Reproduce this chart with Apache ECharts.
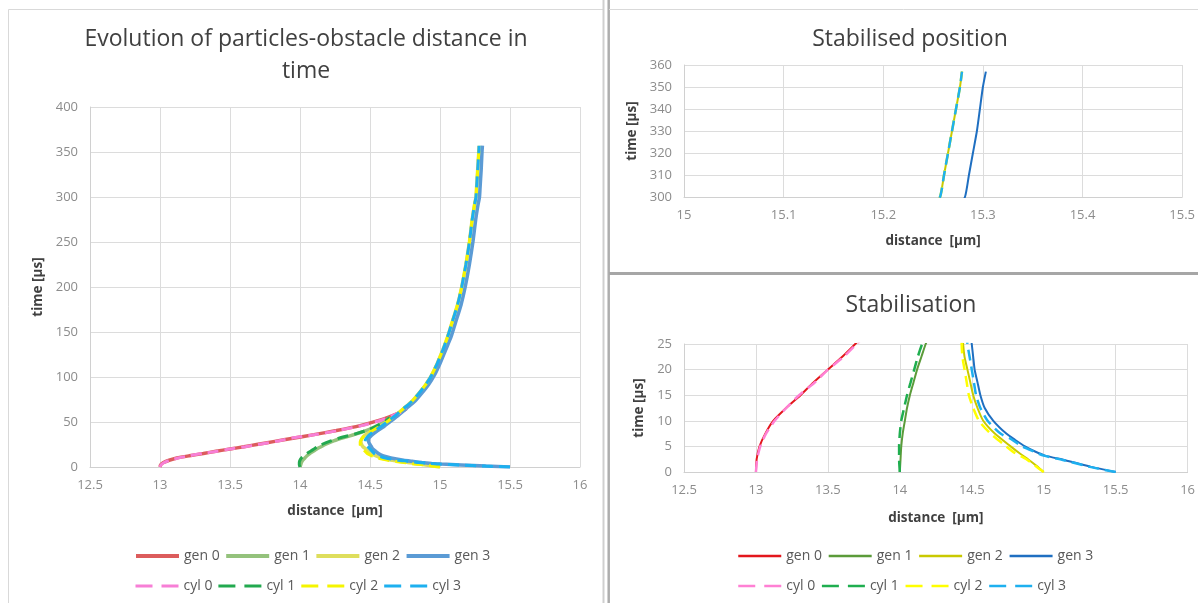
<!DOCTYPE html>
<html>
<head>
<meta charset="utf-8">
<script src="https://cdn.jsdelivr.net/npm/echarts/dist/echarts.min.js"></script>
<style>
html, body { margin: 0; padding: 0; background: #fff; }
#wrap { position: relative; width: 1198px; height: 603px; overflow: hidden; }
#left_chart { position: absolute; left: 0; top: 0; width: 605px; height: 603px; }
#right_chart { position: absolute; left: 605px; top: 0; width: 593px; height: 603px; }
</style>
</head>
<body>
<div id="wrap">
  <div id="left_chart"></div>
  <div id="right_chart"></div>
</div>
<script>
// series values: [distance (µm), time (µs)]
const gen0 = [[13.0,0],[13.005,2.5],[13.025,5],[13.065,7.5],[13.12,10],[13.21,12.5],[13.31,15],[13.4,17.5],[13.5,20],[13.6,22.5],[13.69,25],[13.82,28.5],[13.95,32],[14.1,36],[14.26,40.5],[14.43,46],[14.57,52],[14.66,57],[14.72,61],[14.76,65]];
const cyl0 = [[13.0,0],[13.008,2.5],[13.03,5],[13.07,7.5],[13.13,10],[13.21,12.5],[13.3,15],[13.41,17.5],[13.5,20],[13.61,22.5],[13.7,25],[13.83,28.5],[13.94,32],[14.11,36],[14.27,40.5],[14.44,46],[14.58,52],[14.66,57],[14.72,61],[14.76,65]];
const gen1 = [[14.0,0],[14.005,2.5],[14.01,5],[14.02,7.5],[14.035,10],[14.05,12.5],[14.07,15],[14.095,17.5],[14.12,20],[14.15,22.5],[14.18,25],[14.24,29],[14.32,33],[14.41,37],[14.5,42],[14.56,46.5],[14.61,51],[14.64,55]];
const cyl1 = [[14.0,0],[13.995,2.5],[13.995,5],[14.0,7.5],[14.01,10],[14.03,12.5],[14.05,15],[14.075,17.5],[14.1,20],[14.125,22.5],[14.155,25],[14.22,29],[14.3,33],[14.4,37],[14.49,41.5],[14.56,46.5],[14.61,51],[14.64,55]];
const gen2 = [[15.0,0],[14.95,1.2],[14.9,2.3],[14.83,3.7],[14.77,5],[14.66,7.5],[14.58,10],[14.54,12.5],[14.51,15],[14.49,17.5],[14.47,20],[14.45,22.5],[14.44,25],[14.435,28],[14.44,31],[14.46,35],[14.5,39],[14.56,44],[14.62,50],[14.68,57],[14.74,65],[14.8,73],[14.85,82],[14.9,92],[14.94,102],[14.98,115],[15.02,130],[15.055,145],[15.085,160],[15.125,180],[15.155,200],[15.185,225],[15.21,250],[15.23,275],[15.245,290],[15.257,300],[15.261,310],[15.265,320],[15.269,330],[15.273,340],[15.277,350],[15.279,357]];
const cyl2 = [[15.0,0],[14.94,1.2],[14.88,2.5],[14.8,3.7],[14.74,5],[14.63,7.5],[14.55,10],[14.51,12.5],[14.48,15],[14.465,17.5],[14.45,20],[14.435,22.5],[14.43,25],[14.43,28],[14.44,31],[14.46,35],[14.5,39],[14.56,44],[14.62,50],[14.68,57],[14.74,65],[14.8,73],[14.85,82],[14.9,92],[14.94,102],[14.98,115],[15.02,130],[15.055,145],[15.085,160],[15.125,180],[15.155,200],[15.185,225],[15.21,250],[15.23,275],[15.245,290],[15.257,300],[15.261,310],[15.265,320],[15.269,330],[15.273,340],[15.277,350],[15.279,357]];
const gen3 = [[15.5,0],[15.33,1],[15.15,2.3],[15.01,3.2],[14.94,4],[14.87,5],[14.8,6.3],[14.74,7.5],[14.65,10],[14.59,12.5],[14.56,15],[14.54,17.5],[14.52,20],[14.51,22.5],[14.5,25],[14.49,28],[14.49,31],[14.51,35],[14.55,40],[14.6,45],[14.64,50],[14.7,57],[14.76,65],[14.82,73],[14.87,82],[14.92,92],[14.96,102],[15.0,115],[15.04,130],[15.08,145],[15.11,160],[15.15,180],[15.18,200],[15.21,225],[15.235,250],[15.255,275],[15.27,290],[15.282,300],[15.286,310],[15.29,320],[15.294,330],[15.297,340],[15.3,350],[15.303,357]];
const cyl3 = [[15.5,0],[15.32,1],[15.14,2.3],[15.0,3.2],[14.93,4],[14.85,5],[14.77,6.5],[14.7,7.5],[14.61,10],[14.56,12.5],[14.53,15],[14.515,17.5],[14.5,20],[14.485,22.5],[14.47,25],[14.465,28],[14.47,31],[14.49,35],[14.53,40],[14.58,45],[14.62,50],[14.68,57],[14.74,65],[14.8,73],[14.85,82],[14.9,92],[14.94,102],[14.98,115],[15.02,130],[15.055,145],[15.085,160],[15.125,180],[15.155,200],[15.185,225],[15.21,250],[15.23,275],[15.245,290],[15.257,300],[15.261,310],[15.265,320],[15.269,330],[15.273,340],[15.277,350],[15.279,357]];

const seriesNames = ['gen 0', 'gen 1', 'gen 2', 'gen 3', 'cyl 0', 'cyl 1', 'cyl 2', 'cyl 3'];
const seriesData = [gen0, gen1, gen2, gen3, cyl0, cyl1, cyl2, cyl3];

// axis ranges: [min, max, interval]
const mainX = [12.5, 16, 0.5];
const mainY = [0, 400, 50];
const stableX = [15, 15.5, 0.1];
const stableY = [300, 360, 10];
const startX = [12.5, 16, 0.5];
const startY = [0, 25, 5];

const leftColors = ['#dc5c5c', '#94c27c', '#dede5c', '#5b9bd5', '#f77fd6', '#22a94f', '#f5f500', '#1db0ef'];
const rightColors = ['#e3171c', '#5b9b3a', '#c9c900', '#1f6fc1', '#ff80d4', '#1fae4f', '#ffff00', '#1eb0ef'];

const fontFam = "'Open Sans', sans-serif";

function makeTitle(text, x, y) {
    return {
        text: text,
        left: x,
        top: y,
        padding: 0,
        textAlign: 'center',
        textStyle: { fontFamily: fontFam, fontSize: 23, fontWeight: 'normal', color: '#404040', lineHeight: 32 }
    };
}

function makeAxis(range, gridIndex, name, nameGap, isY) {
    return {
        type: 'value',
        gridIndex: gridIndex,
        min: range[0],
        max: range[1],
        interval: range[2],
        name: name,
        nameLocation: 'middle',
        nameGap: nameGap,
        nameRotate: isY ? 90 : 0,
        nameTextStyle: { fontFamily: fontFam, fontSize: 13.5, fontWeight: 'bold', color: '#404040' },
        axisLine: { show: true, lineStyle: { color: '#d0d0d0', width: 1 } },
        axisTick: { show: false },
        axisLabel: { fontFamily: fontFam, fontSize: 13, color: '#8c8c8c', margin: 12, showMinLabel: true, showMaxLabel: true },
        splitLine: { show: true, lineStyle: { color: '#dcdcdc', width: 1 } }
    };
}

function makeSeries(gridIndex, colors, genWidth, cylWidth) {
    return seriesNames.map(function (name, i) {
        const isCyl = i >= 4;
        return {
            name: name,
            type: 'line',
            xAxisIndex: gridIndex,
            yAxisIndex: gridIndex,
            data: seriesData[i],
            symbol: 'none',
            smooth: 0.2,
            clip: true,
            color: colors[i],
            lineStyle: { color: colors[i], width: isCyl ? cylWidth : genWidth, type: isCyl ? [11, 6] : 'solid' }
        };
    });
}

function makeLegends(left, gap, colors, lineW) {
    const hidden = { color: 'rgba(0,0,0,0)', borderWidth: 0, opacity: 0 };
    const base = {
        left: left,
        orient: 'horizontal',
        padding: 0,
        itemWidth: 43,
        itemHeight: 14,
        itemGap: gap,
        selectedMode: false,
        textStyle: { fontFamily: fontFam, fontSize: 14, color: '#595959', width: 38 }
    };
    const genRow = Object.assign({}, base, {
        top: 549,
        data: seriesNames.slice(0, 4).map(function (n, i) {
            return { name: n, itemStyle: hidden, lineStyle: { color: colors[i], width: lineW[0], type: 'solid' } };
        })
    });
    const cylRow = Object.assign({}, base, {
        top: 579,
        data: seriesNames.slice(4).map(function (n, i) {
            return { name: n, itemStyle: hidden, lineStyle: { color: colors[i + 4], width: lineW[1], type: [17, 9] } };
        })
    });
    return [genRow, cylRow];
}

// left panel: full evolution
const leftChart = echarts.init(document.getElementById('left_chart'), null, { renderer: 'canvas' });
leftChart.setOption({
    animation: false,
    backgroundColor: '#fff',
    title: [makeTitle('Evolution of particles-obstacle distance in\ntime', 306, 23)],
    grid: [{ left: 90, right: 25, top: 107, bottom: 136 }],
    xAxis: [makeAxis(mainX, 0, 'distance  [µm]', 37, false)],
    yAxis: [makeAxis(mainY, 0, 'time [µs]', 44, true)],
    legend: makeLegends(134, 4.5, leftColors, [4, 3]),
    series: makeSeries(0, leftColors, 3.5, 3),
    graphic: [
        { type: 'rect', shape: { x: 8.5, y: 9.5, width: 595, height: 600 }, style: { fill: null, stroke: '#d9d9d9', lineWidth: 1 }, silent: true },
        { type: 'line', shape: { x1: 603.5, y1: 0, x2: 603.5, y2: 603 }, style: { stroke: '#cfcfcf', lineWidth: 2 }, silent: true }
    ]
});

// right panel: stabilised position (top) and stabilisation (bottom)
const rightChart = echarts.init(document.getElementById('right_chart'), null, { renderer: 'canvas' });
rightChart.setOption({
    animation: false,
    backgroundColor: '#fff',
    title: [makeTitle('Stabilised position', 305, 23), makeTitle('Stabilisation', 306, 289)],
    grid: [
        { left: 79, right: 14, top: 65, bottom: 406 },
        { left: 79, right: 9, top: 344, bottom: 131 }
    ],
    xAxis: [makeAxis(stableX, 0, 'distance  [µm]', 37, false), makeAxis(startX, 1, 'distance  [µm]', 39, false)],
    yAxis: [makeAxis(stableY, 0, 'time [µs]', 44, true), makeAxis(startY, 1, 'time [µs]', 36, true)],
    legend: makeLegends(132, 5.5, rightColors, [2.5, 2.5]),
    series: makeSeries(0, rightColors, 2, 2.5).concat(makeSeries(1, rightColors, 2, 2.5)),
    graphic: [
        { type: 'line', shape: { x1: 3.7, y1: 0, x2: 3.7, y2: 603 }, style: { stroke: '#adadad', lineWidth: 2.5 }, silent: true },
        { type: 'line', shape: { x1: 4, y1: 9.5, x2: 593, y2: 9.5 }, style: { stroke: '#d9d9d9', lineWidth: 1 }, silent: true },
        { type: 'line', shape: { x1: 4, y1: 273.5, x2: 593, y2: 273.5 }, style: { stroke: '#a6a6a6', lineWidth: 3 }, silent: true }
    ]
});
</script>
</body>
</html>
